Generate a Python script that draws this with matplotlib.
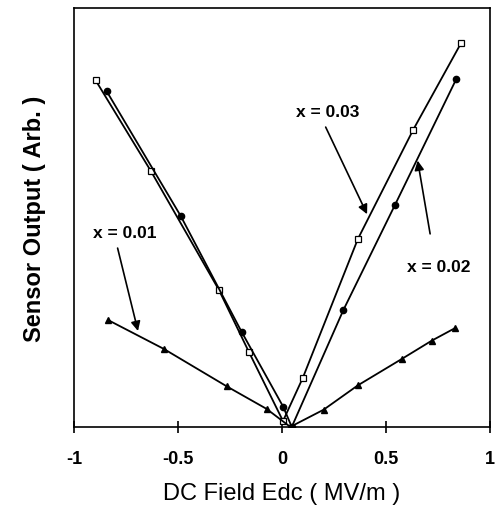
import matplotlib.pyplot as plt

plt.rcParams['font.family'] = ['Liberation Sans', 'DejaVu Sans']

# x = 0.03 (open squares)
field_03 = [-0.896, -0.63, -0.303, -0.159, 0.005, 0.10, 0.365, 0.63, 0.86]
out_03 = [0.828, 0.611, 0.327, 0.179, 0.014, 0.117, 0.449, 0.709, 0.916]

# x = 0.02 (filled circles)
field_02 = [-0.843, -0.487, -0.194, 0.006, 0.047, 0.295, 0.543, 0.837]
out_02 = [0.802, 0.504, 0.227, 0.048, 0.0, 0.279, 0.53, 0.83]

# x = 0.01 (filled triangles)
field_01 = [-0.835, -0.567, -0.266, -0.074, 0.04, 0.2, 0.364, 0.575, 0.72, 0.832]
out_01 = [0.255, 0.186, 0.097, 0.043, 0.0, 0.041, 0.099, 0.162, 0.206, 0.236]

x_ticks = [-1, -0.5, 0, 0.5, 1]
x_tick_labels = ['-1', '-0.5', '0', '0.5', '1']

fig = plt.figure(figsize=(4.96, 5.10), dpi=100)
ax = fig.add_axes([0.149, 0.161, 0.839, 0.821])

ax.plot(field_03, out_03, color='black', lw=1.3, marker='s', ms=5,
        mfc='white', mec='black', mew=0.9, zorder=3)
ax.plot(field_02, out_02, color='black', lw=1.3, marker='o', ms=4.5,
        mfc='black', mec='black', zorder=3)
ax.plot(field_01, out_01, color='black', lw=1.3, marker='^', ms=4.5,
        mfc='black', mec='black', zorder=3)

ax.set_xlim(-1, 1)
ax.set_ylim(0, 1)
ax.set_xticks(x_ticks)
ax.set_xticklabels(x_tick_labels, fontsize=13, fontweight='bold')
ax.set_yticks([])
ax.tick_params(axis='x', direction='inout', length=9, width=1.2, pad=12)
for s in ax.spines.values():
    s.set_linewidth(1.2)

ax.set_xlabel('DC Field Edc ( MV/m )', fontsize=17, labelpad=11)
ax.set_ylabel('Sensor Output ( Arb. )', fontsize=17, fontweight='bold', labelpad=20)

arrow = dict(arrowstyle='-|>', color='black', lw=1.2, mutation_scale=14, shrinkA=0, shrinkB=0)
ax.text(-0.757, 0.465, 'x = 0.01', fontsize=12.5, fontweight='bold', ha='center', va='center')
ax.annotate('', xy=(-0.692, 0.229), xytext=(-0.79, 0.427), arrowprops=arrow)
ax.text(0.221, 0.754, 'x = 0.03', fontsize=12.5, fontweight='bold', ha='center', va='center')
ax.annotate('', xy=(0.409, 0.508), xytext=(0.21, 0.716), arrowprops=arrow)
ax.text(0.755, 0.382, 'x = 0.02', fontsize=12.5, fontweight='bold', ha='center', va='center')
ax.annotate('', xy=(0.652, 0.636), xytext=(0.712, 0.461), arrowprops=arrow)

fig.savefig('out.png', dpi=100)
